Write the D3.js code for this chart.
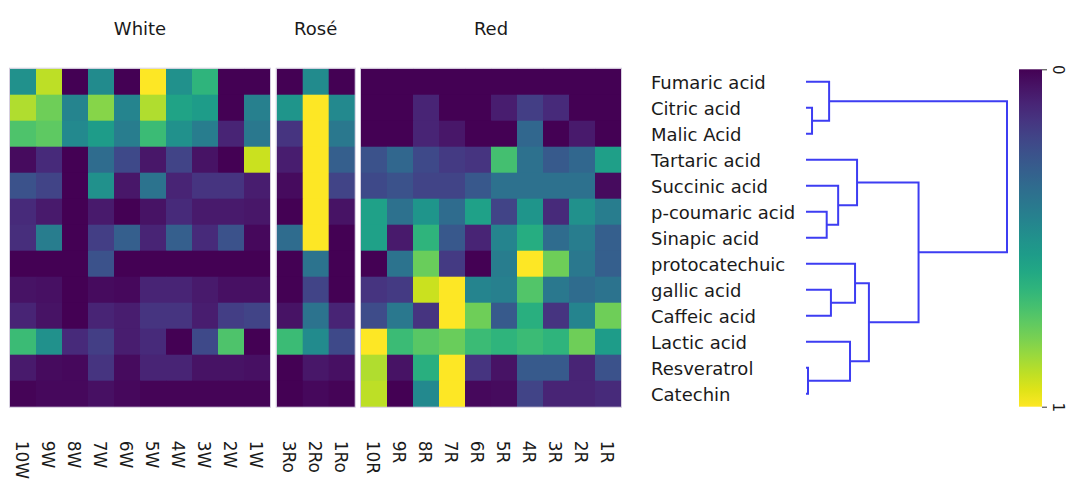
<!DOCTYPE html>
<html>
<head>
<meta charset="utf-8">
<script src="https://cdn.jsdelivr.net/npm/d3@7"></script>
<style>
  html, body { margin: 0; padding: 0; background: #fff; }
  svg { display: block; }
  text { font-family: "DejaVu Sans", Verdana, sans-serif; fill: #1a1a1a; }
</style>
</head>
<body>
<svg id="chart" width="1069" height="479"></svg>
<script>
// ---------- data ----------
const rowNames = ["Fumaric acid", "Citric acid", "Malic Acid", "Tartaric acid", "Succinic acid",
  "p-coumaric acid", "Sinapic acid", "protocatechuic", "gallic acid", "Caffeic acid",
  "Lactic acid", "Resveratrol", "Catechin"];

const groupTitles = ["White", "Rosé", "Red"];

const whiteCols = ["10W", "9W", "8W", "7W", "6W", "5W", "4W", "3W", "2W", "1W"];
const roseCols = ["3Ro", "2Ro", "1Ro"];
const redCols = ["10R", "9R", "8R", "7R", "6R", "5R", "4R", "3R", "2R", "1R"];

const whiteValues = [
  [0.50, 0.90, 0.00, 0.48, 0.00, 1.00, 0.50, 0.65, 0.00, 0.00],
  [0.88, 0.78, 0.45, 0.82, 0.45, 0.88, 0.58, 0.55, 0.00, 0.43],
  [0.72, 0.75, 0.47, 0.55, 0.42, 0.68, 0.50, 0.42, 0.10, 0.40],
  [0.03, 0.12, 0.00, 0.35, 0.22, 0.06, 0.20, 0.05, 0.00, 0.92],
  [0.25, 0.20, 0.00, 0.50, 0.06, 0.38, 0.10, 0.15, 0.15, 0.08],
  [0.12, 0.07, 0.00, 0.07, 0.00, 0.05, 0.12, 0.07, 0.07, 0.06],
  [0.13, 0.42, 0.00, 0.18, 0.30, 0.10, 0.30, 0.12, 0.25, 0.02],
  [0.00, 0.00, 0.00, 0.25, 0.00, 0.00, 0.00, 0.00, 0.00, 0.00],
  [0.05, 0.04, 0.00, 0.03, 0.02, 0.10, 0.10, 0.07, 0.04, 0.04],
  [0.10, 0.05, 0.00, 0.10, 0.08, 0.15, 0.15, 0.08, 0.18, 0.20],
  [0.68, 0.50, 0.12, 0.18, 0.08, 0.12, 0.00, 0.22, 0.72, 0.00],
  [0.07, 0.03, 0.02, 0.15, 0.03, 0.10, 0.10, 0.05, 0.05, 0.04],
  [0.01, 0.02, 0.02, 0.04, 0.02, 0.01, 0.01, 0.01, 0.01, 0.01]
];

const roseValues = [
  [0.00, 0.48, 0.00],
  [0.52, 1.00, 0.47],
  [0.15, 1.00, 0.40],
  [0.08, 1.00, 0.30],
  [0.03, 1.00, 0.20],
  [0.00, 1.00, 0.05],
  [0.35, 1.00, 0.00],
  [0.00, 0.38, 0.00],
  [0.00, 0.20, 0.00],
  [0.05, 0.38, 0.10],
  [0.68, 0.48, 0.22],
  [0.00, 0.06, 0.04],
  [0.00, 0.02, 0.01]
];

const redValues = [
  [0.00, 0.00, 0.00, 0.00, 0.00, 0.00, 0.00, 0.00, 0.00, 0.00],
  [0.00, 0.00, 0.10, 0.00, 0.00, 0.08, 0.18, 0.12, 0.00, 0.00],
  [0.00, 0.00, 0.10, 0.06, 0.00, 0.00, 0.33, 0.00, 0.07, 0.00],
  [0.25, 0.33, 0.22, 0.17, 0.15, 0.70, 0.37, 0.28, 0.33, 0.56],
  [0.22, 0.25, 0.20, 0.20, 0.27, 0.37, 0.37, 0.37, 0.37, 0.03],
  [0.57, 0.37, 0.52, 0.35, 0.57, 0.20, 0.52, 0.12, 0.50, 0.42],
  [0.57, 0.07, 0.65, 0.27, 0.10, 0.45, 0.62, 0.35, 0.42, 0.30],
  [0.00, 0.38, 0.77, 0.17, 0.00, 0.42, 1.00, 0.78, 0.40, 0.30],
  [0.15, 0.17, 0.92, 1.00, 0.45, 0.43, 0.73, 0.40, 0.35, 0.38],
  [0.23, 0.40, 0.15, 1.00, 0.78, 0.28, 0.63, 0.15, 0.45, 0.78],
  [1.00, 0.68, 0.74, 0.77, 0.68, 0.65, 0.68, 0.65, 0.78, 0.55],
  [0.88, 0.05, 0.63, 1.00, 0.15, 0.05, 0.28, 0.28, 0.10, 0.25],
  [0.90, 0.00, 0.47, 1.00, 0.02, 0.03, 0.20, 0.10, 0.10, 0.12]
];

// dendrogram linkage: [childA, childB, height]; leaves 0..12, merges numbered from 13
const linkage = [
  [1, 2, 0.30],
  [0, 13, 1.15],
  [5, 6, 1.03],
  [4, 15, 1.60],
  [3, 16, 2.54],
  [8, 9, 1.24],
  [7, 18, 2.44],
  [11, 12, 0.10],
  [10, 20, 2.19],
  [19, 21, 3.13],
  [17, 22, 5.60],
  [14, 23, 10.0]
];

const colorbarTicks = [0, 1];

// ---------- layout ----------
const svg = d3.select("#chart");
const hmTop = 68.7, hmBottom = 406.7;
const y = d3.scaleBand().domain(d3.range(rowNames.length)).range([hmTop, hmBottom]).padding(0);
const color = d3.interpolateViridis;

const panels = [
  { title: groupTitles[0], cols: whiteCols, values: whiteValues, x0: 10, x1: 270 },
  { title: groupTitles[1], cols: roseCols, values: roseValues, x0: 276.7, x1: 354.7 },
  { title: groupTitles[2], cols: redCols, values: redValues, x0: 361, x1: 621 }
];

panels.forEach(p => {
  const x = d3.scaleBand().domain(p.cols).range([p.x0, p.x1]).padding(0);
  const g = svg.append("g");
  const cells = [];
  p.values.forEach((row, ri) => row.forEach((v, ci) => cells.push({ r: ri, c: p.cols[ci], v })));
  g.selectAll("rect.cell").data(cells).join("rect")
    .attr("class", "cell")
    .attr("x", d => x(d.c))
    .attr("y", d => y(d.r))
    .attr("width", x.bandwidth() + 0.4)
    .attr("height", y.bandwidth() + 0.4)
    .attr("fill", d => color(d.v));
  g.append("rect")
    .attr("x", p.x0 - 0.5).attr("y", hmTop - 0.5)
    .attr("width", p.x1 - p.x0 + 1).attr("height", hmBottom - hmTop + 1)
    .attr("fill", "none").attr("stroke", "#d6cfe0").attr("stroke-width", 1);

  svg.append("text")
    .attr("x", (p.x0 + p.x1) / 2).attr("y", 35)
    .attr("text-anchor", "middle")
    .style("font-size", "18px")
    .text(p.title);

  const axis = d3.axisBottom(x).tickSize(0).tickPadding(0);
  const ag = svg.append("g").attr("transform", `translate(0,${hmBottom})`).call(axis);
  ag.select(".domain").remove();
  ag.selectAll(".tick text")
    .attr("transform", "translate(-1,34) rotate(90)")
    .attr("x", 0).attr("y", 0).attr("dy", "0.35em")
    .attr("text-anchor", "start")
    .style("font-size", "17px")
    .style("font-family", '"DejaVu Sans", Verdana, sans-serif')
    .attr("fill", "#1a1a1a");
});

// row labels
svg.append("g").selectAll("text").data(rowNames).join("text")
  .attr("x", 651)
  .attr("y", (d, i) => y(i) + y.bandwidth() / 2)
  .attr("dy", "0.42em")
  .style("font-size", "18px")
  .text(d => d);

// dendrogram
const hx = d3.scaleLinear().domain([0, 10]).range([806, 1007]);
const n = rowNames.length;
const nodes = d3.range(n).map(i => ({ x: hx(0), y: y(i) + y.bandwidth() / 2 }));
const dg = svg.append("g").attr("fill", "none").attr("stroke", "#3d3df2").attr("stroke-width", 2);
linkage.forEach(([a, b, h]) => {
  const A = nodes[a], B = nodes[b];
  const xn = hx(h);
  const path = d3.path();
  path.moveTo(A.x, A.y);
  path.lineTo(xn, A.y);
  path.lineTo(xn, B.y);
  path.lineTo(B.x, B.y);
  dg.append("path").attr("d", path.toString());
  nodes.push({ x: xn, y: (A.y + B.y) / 2 });
});

// colorbar
const cbX = 1019, cbW = 23, cbTop = 69.3, cbBot = 406.7;
const defs = svg.append("defs");
const grad = defs.append("linearGradient").attr("id", "cbgrad")
  .attr("x1", 0).attr("y1", 0).attr("x2", 0).attr("y2", 1);
d3.range(0, 1.0001, 0.05).forEach(t => {
  grad.append("stop").attr("offset", t).attr("stop-color", color(t));
});
svg.append("rect").attr("x", cbX).attr("y", cbTop).attr("width", cbW).attr("height", cbBot - cbTop)
  .attr("fill", "url(#cbgrad)");
const cy = d3.scaleLinear().domain([0, 1]).range([cbTop, cbBot]);
const cbAxis = d3.axisRight(cy).tickValues(colorbarTicks).tickSize(5).tickPadding(0).tickFormat(d3.format("d"));
const cag = svg.append("g").attr("transform", `translate(${cbX + cbW},0)`).call(cbAxis);
cag.select(".domain").remove();
cag.selectAll(".tick line").attr("stroke", "#333");
cag.selectAll(".tick text")
  .attr("transform", "translate(11,0) rotate(90)")
  .attr("x", 0).attr("y", 0).attr("dy", 0)
  .attr("text-anchor", "middle")
  .style("font-size", "15px")
  .style("font-family", '"DejaVu Sans", Verdana, sans-serif')
  .attr("fill", "#1a1a1a");
</script>
</body>
</html>
